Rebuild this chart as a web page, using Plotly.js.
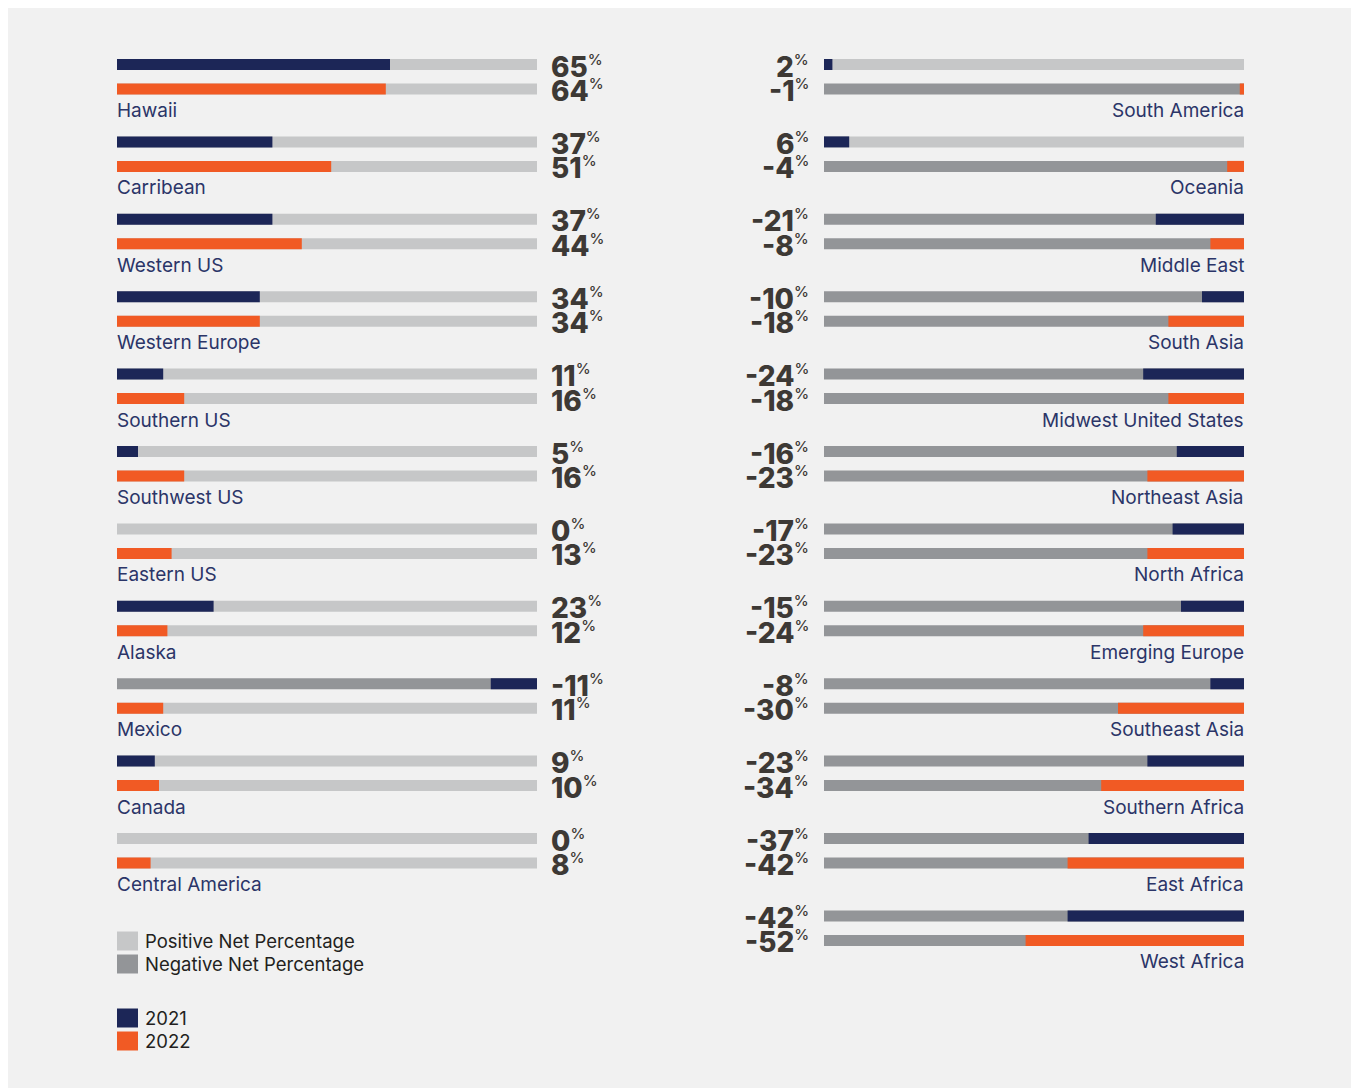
<!DOCTYPE html>
<html>
<head>
<meta charset="utf-8">
<script src="https://cdn.plot.ly/plotly-3.0.1.min.js"></script>
<style>html,body{margin:0;padding:0;background:#fff;}#chart{width:1353px;height:1090px;}</style>
</head>
<body>
<div id="chart"></div>
<script>
// ---- data ----
const leftCategories = ['Hawaii','Carribean','Western US','Western Europe','Southern US','Southwest US','Eastern US','Alaska','Mexico','Canada','Central America'];
const left2021 = [65,37,37,34,11,5,0,23,-11,9,0];
const left2022 = [64,51,44,34,16,16,13,12,11,10,8];

const rightCategories = ['South America','Oceania','Middle East','South Asia','Midwest United States','Northeast Asia','North Africa','Emerging Europe','Southeast Asia','Southern Africa','East Africa','West Africa'];
const right2021 = [2,6,-21,-10,-24,-16,-17,-15,-8,-23,-37,-42];
const right2022 = [-1,-4,-8,-18,-18,-23,-23,-24,-30,-34,-42,-52];

const legendBackground = ['Positive Net Percentage','Negative Net Percentage'];
const legendYears = ['2021','2022'];

// ---- styles ----
const C = {navy:'#1c2657', orange:'#f15a24', pos:'#c6c7c8', neg:'#939598', label:'#2b3568', num:'#3d3935', text:'#231f20', panel:'#f1f1f1'};
const W = 1353, H = 1090;
const FONT = 'Inter, "Open Sans", sans-serif';
const top0 = 64.5, step = 77.4, gap = 24.5, barH = 11;

const pos1 = i => top0 + i*step;
const pos2 = i => top0 + i*step + gap;

const traces = [];
const annotations = [];

function panel(cats, v21, v22, xa, side) {
  const idx = cats.map((_, i) => i);
  [[v21, pos1, C.navy], [v22, pos2, C.orange]].forEach(([vals, pf, col]) => {
    // background (full 100%)
    traces.push({type:'bar', orientation:'h', xaxis:xa, yaxis:'y',
      x: vals.map(() => 100), y: idx.map(pf), base: 0, width: barH,
      marker:{color: vals.map(v => v < 0 ? C.neg : C.pos)}, showlegend:false, hoverinfo:'skip'});
    // value bars
    traces.push({type:'bar', orientation:'h', xaxis:xa, yaxis:'y',
      x: vals.map(v => Math.abs(v)), y: idx.map(pf),
      base: vals.map(v => v < 0 ? 100 - Math.abs(v) : 0), width: barH,
      marker:{color: col}, showlegend:false, hoverinfo:'skip'});
    // numbers
    vals.forEach((v, i) => {
      annotations.push({xref: xa, yref:'y', x: side === 'left' ? 100 : 0, y: pf(i) + 2,
        xshift: side === 'left' ? 12 : -13, xanchor: side === 'left' ? 'left' : 'right', yanchor:'middle',
        text: v + '<sup><span style="font-size:15px;font-weight:500">%</span></sup>', showarrow:false,
        font:{family:FONT, size:28, color:C.num, weight:800}});
    });
  });
  cats.forEach((c, i) => {
    annotations.push({xref: xa, yref:'y', x: side === 'left' ? 0 : 100, y: pos1(i) + 46,
      xanchor: side === 'left' ? 'left' : 'right', yanchor:'middle', text: c, showarrow:false,
      xshift: side === 'left' ? -2 : 2,
      font:{family:FONT, size:19, color:C.label}});
  });
}

panel(leftCategories, left2021, left2022, 'x', 'left');
panel(rightCategories, right2021, right2022, 'x2', 'right');

// legend (manual)
const shapes = [{type:'rect', xref:'paper', yref:'paper', x0:8/W, x1:1351/W, y0:1-8/H, y1:1-1088/H,
  fillcolor:C.panel, line:{width:0}, layer:'below'}];
const legendItems = [
  [legendBackground[0], C.pos, 941], [legendBackground[1], C.neg, 964],
  [legendYears[0], C.navy, 1018], [legendYears[1], C.orange, 1041]];
legendItems.forEach(([t, col, yc]) => {
  shapes.push({type:'rect', xref:'paper', yref:'y', x0:117/W, x1:138/W, y0:yc-9.5, y1:yc+9.5,
    fillcolor:col, line:{width:0}, layer:'above'});
  annotations.push({xref:'paper', yref:'y', x:143/W, y:yc, xanchor:'left', yanchor:'middle',
    text:t, showarrow:false, font:{family:FONT, size:18.5, color:C.text}});
});

const hidden = {showgrid:false, zeroline:false, showticklabels:false, ticks:'', showline:false, fixedrange:true};
const layout = {
  width:W, height:H, margin:{l:0,r:0,t:0,b:0},
  paper_bgcolor:'#ffffff', plot_bgcolor:'rgba(0,0,0,0)',
  barmode:'overlay', showlegend:false, hovermode:false,
  xaxis: Object.assign({domain:[117/W, 537/W], range:[0,100], anchor:'y'}, hidden),
  xaxis2: Object.assign({domain:[824/W, 1244/W], range:[0,100], anchor:'y'}, hidden),
  yaxis: Object.assign({domain:[0,1], range:[H,0], anchor:'x'}, hidden),
  shapes, annotations
};
Plotly.newPlot('chart', traces, layout, {displayModeBar:false, staticPlot:true});
</script>
</body>
</html>
